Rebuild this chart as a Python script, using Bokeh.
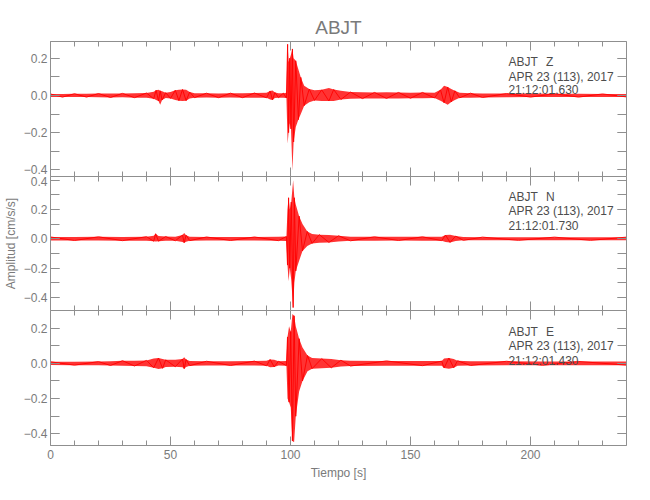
from bokeh.plotting import figure
from bokeh.layouts import column
from bokeh.models import Range1d, LinearAxis, Label, SingleIntervalTicker, CustomJSTickFormatter
from bokeh.embed import file_html
from bokeh.resources import INLINE

# ---------------- data (envelope knots) ----------------
STATION = "ABJT"
COMPONENTS = ["Z", "N", "E"]
DATE_TEXT = "APR 23 (113), 2017"
START_TIMES = ["21:12:01.630", "21:12:01.730", "21:12:01.430"]

T_Z = [0, 5, 10, 15, 20, 25, 30, 35, 40, 43, 44, 45, 45.7, 46.5, 48, 50, 52, 53.5, 55, 56.5, 58, 60,
       65, 70, 75, 80, 85, 90, 91.5, 92.5, 93.5, 95, 97, 98.3, 98.8, 99.2, 99.7, 100.2, 100.8, 101.3,
       102.2, 103.3, 104.3, 105.7, 107.8, 110, 113, 116, 118, 121, 125, 130, 135, 140, 145, 150, 155,
       160, 162.5, 164, 165.5, 167, 168.5, 170.5, 175, 180, 190, 200, 210, 220, 230, 240]
HI_Z = [0.008, 0.008, 0.009, 0.009, 0.010, 0.010, 0.011, 0.012, 0.013, 0.020, 0.028, 0.030, 0.025, 0.022,
        0.015, 0.018, 0.028, 0.030, 0.032, 0.030, 0.018, 0.012, 0.012, 0.011, 0.012, 0.012, 0.013, 0.014,
        0.024, 0.026, 0.016, 0.012, 0.012, 0.015, 0.275, 0.180, 0.200, 0.220, 0.250, 0.200, 0.186, 0.140,
        0.097, 0.052, 0.034, 0.028, 0.030, 0.040, 0.032, 0.025, 0.018, 0.017, 0.016, 0.017, 0.016, 0.015,
        0.016, 0.015, 0.030, 0.052, 0.045, 0.035, 0.025, 0.014, 0.012, 0.011, 0.010, 0.010, 0.009, 0.009,
        0.008, 0.008]
LO_Z = [-0.008, -0.009, -0.008, -0.009, -0.010, -0.011, -0.010, -0.012, -0.012, -0.018, -0.025, -0.030,
        -0.050, -0.025, -0.014, -0.016, -0.025, -0.028, -0.030, -0.028, -0.016, -0.012, -0.011, -0.012,
        -0.011, -0.012, -0.012, -0.013, -0.022, -0.024, -0.014, -0.012, -0.012, -0.014, -0.260, -0.200,
        -0.150, -0.180, -0.405, -0.250, -0.170, -0.130, -0.100, -0.055, -0.037, -0.027, -0.030, -0.030,
        -0.030, -0.022, -0.018, -0.017, -0.017, -0.016, -0.016, -0.015, -0.015, -0.014, -0.028, -0.040,
        -0.050, -0.035, -0.025, -0.013, -0.012, -0.011, -0.010, -0.009, -0.009, -0.009, -0.008, -0.008]

T_N = [0, 10, 20, 30, 40, 43, 43.8, 45, 48, 52, 55, 55.7, 56.5, 58, 65, 75, 85, 95, 98.3, 98.75, 99.2,
       99.7, 100.3, 101.1, 101.6, 102.2, 103.6, 105, 107, 109, 112, 116, 120, 125, 135, 145, 155, 163,
       164.6, 166.5, 168.8, 172, 180, 195, 210, 225, 240]
HI_N = [0.012, 0.012, 0.013, 0.012, 0.014, 0.020, 0.034, 0.018, 0.015, 0.014, 0.025, 0.040, 0.024, 0.014,
        0.012, 0.012, 0.012, 0.013, 0.015, 0.200, 0.280, 0.200, 0.250, 0.400, 0.280, 0.233, 0.154, 0.100,
        0.050, 0.032, 0.028, 0.025, 0.020, 0.014, 0.013, 0.013, 0.013, 0.013, 0.025, 0.027, 0.018, 0.012,
        0.011, 0.011, 0.011, 0.011, 0.011]
LO_N = [-0.012, -0.012, -0.012, -0.013, -0.013, -0.017, -0.018, -0.017, -0.014, -0.014, -0.022, -0.027,
        -0.020, -0.013, -0.012, -0.012, -0.012, -0.013, -0.015, -0.180, -0.290, -0.200, -0.280, -0.470,
        -0.300, -0.220, -0.150, -0.083, -0.050, -0.032, -0.027, -0.025, -0.019, -0.014, -0.013, -0.012,
        -0.013, -0.013, -0.022, -0.025, -0.016, -0.011, -0.011, -0.011, -0.011, -0.011, -0.011]

T_E = [0, 10, 20, 25, 30, 35, 40, 43, 45, 46.7, 48, 52, 55, 55.7, 56.5, 58, 65, 75, 85, 90, 91.5, 93.2,
       95, 98.3, 98.75, 99.4, 100.1, 100.8, 101.5, 102.2, 103.6, 105, 107.1, 109, 113, 117, 121, 125,
       140, 155, 163, 164, 166, 168, 169.6, 175, 190, 205, 220, 240]
HI_E = [0.009, 0.009, 0.010, 0.012, 0.015, 0.015, 0.017, 0.028, 0.030, 0.025, 0.020, 0.020, 0.025, 0.035,
        0.022, 0.014, 0.012, 0.012, 0.013, 0.015, 0.022, 0.020, 0.012, 0.014, 0.150, 0.210, 0.180, 0.280,
        0.270, 0.210, 0.140, 0.090, 0.045, 0.030, 0.027, 0.025, 0.018, 0.015, 0.014, 0.013, 0.013, 0.028,
        0.030, 0.025, 0.015, 0.012, 0.012, 0.011, 0.011, 0.010]
LO_E = [-0.009, -0.010, -0.010, -0.012, -0.014, -0.015, -0.016, -0.025, -0.032, -0.028, -0.020, -0.019,
        -0.022, -0.030, -0.020, -0.013, -0.012, -0.012, -0.012, -0.014, -0.022, -0.020, -0.012, -0.013,
        -0.200, -0.220, -0.250, -0.440, -0.447, -0.300, -0.160, -0.100, -0.045, -0.030, -0.027, -0.025,
        -0.018, -0.015, -0.013, -0.013, -0.013, -0.026, -0.030, -0.025, -0.014, -0.012, -0.011, -0.011,
        -0.010, -0.010]

Y_LIMITS = [(-0.436, 0.29), (-0.49, 0.425), (-0.466, 0.30)]
X_LIMITS = (0, 240)

# ---------------- styling ----------------
FONT = "Liberation Sans"
GRAY = "#8f8f8f"
TXT = "#7a7a7a"
DARK = "#4d4d4d"
RED = "#ff0000"

xr = Range1d(*X_LIMITS)
fmt_y = CustomJSTickFormatter(code="""
var v = Math.abs(tick) < 1e-9 ? 0 : tick;
return v.toFixed(1).replace('-', '\\u2212');
""")
fmt_none = CustomJSTickFormatter(code="return '';")


def style_axis(ax, is_x, labels):
    ax.axis_line_color = GRAY
    ax.major_tick_line_color = GRAY
    ax.minor_tick_line_color = GRAY
    ax.major_tick_in = 9
    ax.major_tick_out = 0
    ax.minor_tick_in = 5 if is_x else 9
    ax.minor_tick_out = 0
    if is_x:
        ax.ticker = SingleIntervalTicker(interval=50, num_minor_ticks=5)
    else:
        ax.ticker = SingleIntervalTicker(interval=0.2, num_minor_ticks=2)
        ax.formatter = fmt_y
    ax.major_label_text_font = FONT
    ax.major_label_text_font_size = "12px"
    ax.major_label_text_color = TXT
    if labels:
        ax.major_label_standoff = 3 if not is_x else 4
    else:
        ax.formatter = fmt_none
        ax.major_label_standoff = 0


traces = [(T_Z, HI_Z, LO_Z), (T_N, HI_N, LO_N), (T_E, HI_E, LO_E)]
frame_heights = [135, 134, 135]
tops = [41, 0, 0]
bottoms = [0, 0, 45]
text_y = [(0.181, 0.100, 0.029), (0.285, 0.188, 0.086), (0.176, 0.096, 0.015)]

panels = []
for i in range(3):
    t, hi, lo = traces[i]
    p = figure(frame_width=576, frame_height=frame_heights[i], x_range=xr,
               y_range=Range1d(*Y_LIMITS[i]), output_backend="svg", toolbar_location=None,
               min_border_left=48, min_border_right=14, min_border_top=tops[i],
               min_border_bottom=bottoms[i])
    p.outline_line_color = None
    p.grid.grid_line_color = None

    top_ax = LinearAxis()
    right_ax = LinearAxis()
    p.add_layout(top_ax, "above")
    p.add_layout(right_ax, "right")
    style_axis(p.below[0], True, i == 2)
    style_axis(top_ax, True, False)
    style_axis(p.left[0], False, True)
    style_axis(right_ax, False, False)

    if i == 0:
        p.title.text = STATION
        p.title.align = "center"
        p.title.text_font = FONT
        p.title.text_font_size = "19px"
        p.title.text_font_style = "normal"
        p.title.text_color = TXT
        p.title.standoff = 7

    if i == 1:
        ax = p.left[0]
        ax.axis_label = "Amplitud [cm/s/s]"
        ax.axis_label_text_font = FONT
        ax.axis_label_text_font_size = "12px"
        ax.axis_label_text_font_style = "normal"
        ax.axis_label_text_color = TXT
        ax.axis_label_standoff = 3

    if i == 2:
        ax = p.below[0]
        ax.axis_label = "Tiempo [s]"
        ax.axis_label_text_font = FONT
        ax.axis_label_text_font_size = "12px"
        ax.axis_label_text_font_style = "normal"
        ax.axis_label_text_color = TXT
        ax.axis_label_standoff = 4

    # waveform: envelope band + strokes alternating between the read upper / lower values
    p.varea(x=t, y1=lo, y2=hi, fill_color=RED, fill_alpha=0.8)
    zy = [hi[k] if k % 2 == 0 else lo[k] for k in range(len(t))]
    p.line(t, zy, line_color=RED, line_width=1, line_alpha=0.9)

    p.add_layout(Label(x=190.8, y=text_y[i][0], text=STATION, text_font=FONT,
                       text_font_size="12px", text_color=DARK, text_align="left",
                       text_baseline="middle"))
    p.add_layout(Label(x=206.5, y=text_y[i][0], text=COMPONENTS[i], text_font=FONT,
                       text_font_size="12px", text_color=DARK, text_align="left",
                       text_baseline="middle"))
    for j, s in ((1, DATE_TEXT), (2, START_TIMES[i])):
        p.add_layout(Label(x=190.8, y=text_y[i][j], text=s, text_font=FONT,
                           text_font_size="12px", text_color=DARK, text_align="left",
                           text_baseline="middle"))
    panels.append(p)

layout = column(*panels, spacing=0)
open("out.html", "w").write(file_html(layout, INLINE))
